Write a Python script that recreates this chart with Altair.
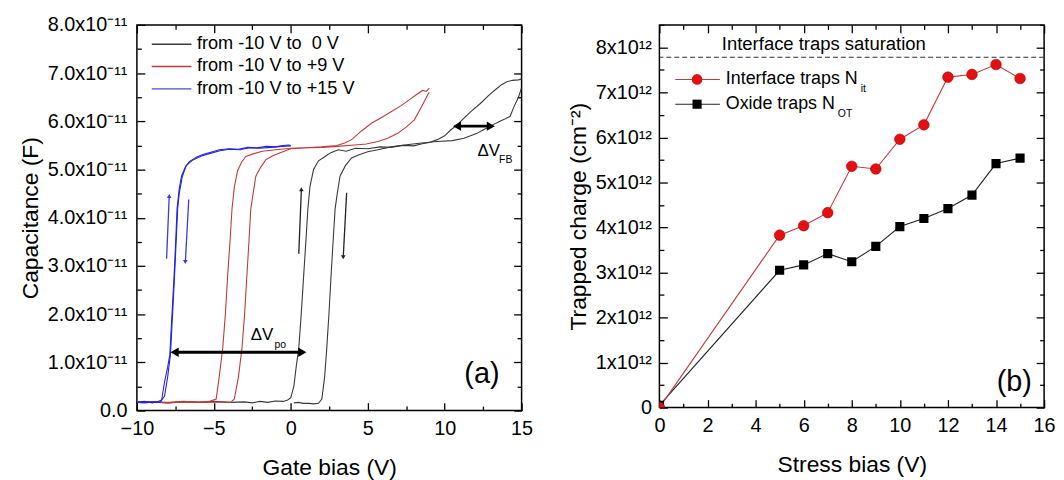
import altair as alt
import pandas as pd

FONT = "Liberation Sans"

# ---------------- panel (a): C-V curves, capacitance in units of 1e-11 F ----------------
blk_fwd_v = [-10, -9, -8, -7, -6, -5, -4, -3, -2.5, -2, -1.5, -1, -0.5, -0.2, 0.0, 0.2, 0.35, 0.52, 0.68, 0.84,
             0.98, 1.11, 1.25, 1.48, 1.8, 2.23, 2.6, 3.09, 3.6, 4.2, 5, 5.8, 6.5, 7.3, 8, 8.46, 9, 9.53, 10,
             10.39, 10.8, 11.14, 11.7, 12.32, 12.9, 13.39, 13.7, 14.04, 14.4, 14.79, 15]
blk_fwd_c = [0.17, 0.18, 0.16, 0.18, 0.17, 0.19, 0.17, 0.18, 0.16, 0.19, 0.17, 0.2, 0.19, 0.22, 0.27, 0.5, 0.9, 1.3,
             2.0, 2.81, 3.5, 4.18, 4.65, 5.0, 5.18, 5.27, 5.35, 5.41, 5.38, 5.44, 5.43, 5.47, 5.46, 5.5, 5.49,
             5.53, 5.56, 5.62, 5.7, 5.82, 5.92, 6.03, 6.2, 6.37, 6.55, 6.68, 6.76, 6.82, 6.85, 6.86, 6.88]
blk_bwd_v = [15, 14.8, 14.5, 14.25, 13.6, 12.96, 12.5, 12.1, 11.6, 11.25, 10.5, 9.53, 8.5, 7.39, 6.5, 5.67, 5, 4.4,
             3.95, 3.55, 3.2, 3.02, 2.88, 2.75, 2.62, 2.48, 2.34, 2.2, 2.02, 1.8, 1.5, 1.2, 0.8, 0.5, 0.2]
blk_bwd_c = [6.7, 6.5, 6.3, 6.1, 6.0, 5.9, 5.82, 5.75, 5.69, 5.65, 5.6, 5.58, 5.55, 5.51, 5.47, 5.41, 5.37, 5.3,
             5.24, 5.08, 4.86, 4.5, 4.18, 3.5, 2.81, 2.0, 1.3, 0.7, 0.24, 0.15, 0.14, 0.15, 0.15, 0.17, 0.16]

red_fwd_v = [-10, -9, -8, -7, -6, -5.3, -4.85, -4.65, -4.42, -4.25, -4.1, -3.95, -3.82, -3.66, -3.46, -3.2, -2.92,
             -2.4, -1.85, -1, 0, 1, 2, 3, 3.5, 3.95, 4.6, 5.24, 5.9, 6.52, 7.2, 7.81, 8.2, 8.56, 8.8, 9.0]
red_fwd_c = [0.17, 0.18, 0.16, 0.19, 0.17, 0.19, 0.24, 0.7, 1.3, 2.0, 2.81, 3.5, 4.18, 4.65, 4.97, 5.15, 5.27,
             5.33, 5.38, 5.41, 5.44, 5.45, 5.47, 5.5, 5.55, 5.62, 5.8, 5.96, 6.08, 6.2, 6.33, 6.47, 6.56, 6.64,
             6.62, 6.69]
red_bwd_v = [9.0, 8.9, 8.5, 8.03, 7.5, 6.95, 6.3, 5.67, 4.9, 4.17, 3, 2, 1, 0, -0.77, -1.2, -1.63, -1.95, -2.27,
             -2.45, -2.6, -2.72, -2.85, -3.0, -3.17, -3.4, -3.67, -3.9, -4.5, -5.5, -6.5, -8, -10]
red_bwd_c = [6.6, 6.55, 6.3, 6.03, 5.88, 5.75, 5.65, 5.58, 5.53, 5.51, 5.48, 5.46, 5.45, 5.43, 5.34, 5.28, 5.2,
             5.05, 4.86, 4.5, 4.18, 3.5, 2.81, 2.0, 1.3, 0.7, 0.24, 0.17, 0.18, 0.17, 0.18, 0.17, 0.18]

blu_fwd_v = [-10, -9.5, -9, -8.7, -8.39, -8.2, -8.0, -7.86, -7.72, -7.58, -7.48, -7.39, -7.25, -7.1, -6.85, -6.57,
             -6.1, -5.71, -5.2, -4.64, -4.0, -3.4, -2.8, -2.2, -1.6, -1.0, -0.5, -0.13, 0]
blu_fwd_c = [0.17, 0.19, 0.16, 0.18, 0.22, 0.6, 0.9, 1.16, 2.0, 2.81, 3.5, 4.18, 4.6, 4.86, 5.05, 5.17, 5.26, 5.31,
             5.36, 5.41, 5.43, 5.42, 5.46, 5.45, 5.48, 5.47, 5.5, 5.51, 5.5]
blu_bwd_v = [0, -0.6, -1.3, -2, -2.7, -3.3, -4, -4.6, -5.3, -5.8, -6.4, -6.8, -7.05, -7.25, -7.35, -7.45, -7.55,
             -7.68, -7.82, -8.0, -8.2, -8.5, -9, -9.5, -10]
blu_bwd_c = [5.49, 5.48, 5.46, 5.44, 5.45, 5.41, 5.42, 5.39, 5.33, 5.28, 5.19, 5.08, 4.85, 4.5, 4.18, 3.5, 2.81,
             2.0, 1.16, 0.7, 0.3, 0.17, 0.18, 0.16, 0.17]

series_names = ["from -10 V to \u00a00 V", "from -10 V to +9 V", "from -10 V to +15 V"]
series_colors = ["#3a3a3a", "#c23a3a", "#2222e0"]
legend_colors = ["#3a3a3a", "#c23a3a", "#4a4ad8"]
series_widths = [1.1, 1.1, 1.9]

# direction arrows near the transitions
arr_x1 = [-8.07, -6.63, 0.52, 3.63]
arr_y1 = [3.15, 4.38, 3.25, 4.52]
arr_x2 = [-7.9, -6.85, 0.69, 3.41]
arr_y2 = [4.45, 3.08, 4.59, 3.18]
arr_shape = ["triangle-up", "triangle-down", "triangle-up", "triangle-down"]
arr_color = ["#3b3bd6", "#3b3bd6", "#222222", "#222222"]

# double arrows (delta V)
dv_x1 = [-7.55, 10.8]
dv_x2 = [0.75, 13.0]
dv_y = [1.21, 5.9]
dv_label_x = [-1.87, 12.86]
dv_label_y = [1.56, 5.38]
dv_sub = ["po", "FB"]
dv_sub_x = [-0.68, 13.97]
dv_sub_y = [1.37, 5.2]

# ---------------- panel (b): trapped charge, units of 1e12 cm^-2 ----------------
stress_bias = [0, 5, 6, 7, 8, 9, 10, 11, 12, 13, 14, 15]
n_it = [0, 3.83, 4.04, 4.33, 5.36, 5.30, 5.96, 6.28, 7.34, 7.40, 7.62, 7.31]
n_ot = [0.05, 3.05, 3.17, 3.42, 3.24, 3.58, 4.02, 4.20, 4.42, 4.72, 5.42, 5.54]
saturation = [7.78]

WA, HA = 388, 389
WB, HB = 388, 386


def branch(vs, cs, s, b):
    return pd.DataFrame({"V": vs, "C": cs, "series": s, "branch": b, "idx": list(range(len(vs)))})


cv = pd.concat([
    branch(blk_fwd_v, blk_fwd_c, series_names[0], "f"),
    branch(blk_bwd_v, blk_bwd_c, series_names[0], "b"),
    branch(red_fwd_v, red_fwd_c, series_names[1], "f"),
    branch(red_bwd_v, red_bwd_c, series_names[1], "b"),
    branch(blu_fwd_v, blu_fwd_c, series_names[2], "f"),
    branch(blu_bwd_v, blu_bwd_c, series_names[2], "b"),
], ignore_index=True)

xs_a = alt.Scale(domain=[-10, 15], nice=False, zero=False, padding=0)
ys_a = alt.Scale(domain=[0, 8], nice=False, zero=False, padding=0)
xs_b = alt.Scale(domain=[0, 16], nice=False, zero=False, padding=0)
ys_b = alt.Scale(domain=[0, 8.5], nice=False, zero=False, padding=0)

one = pd.DataFrame({"a": [0]})


def tick_layers(xs, ys, xmaj, xmin, ymaj, ymin, W, H, xf, yf):
    layers = []
    specs = [("top", "right", xmaj, ymaj, 8), ("top", "right", xmin, ymin, 4.5),
             ("bottom", "left", xmaj, ymaj, 8), ("bottom", "left", xmin, ymin, 4.5)]
    d = pd.DataFrame({xf: [xmaj[0]], yf: [ymaj[0]]})
    for xo, yo, xv, yv, sz in specs:
        ax = alt.Axis(orient=xo, offset=-H, values=xv, tickSize=sz, tickWidth=1.3, tickColor="black",
                      labels=False, domain=False, grid=False, title="")
        ay = alt.Axis(orient=yo, offset=-W, values=yv, tickSize=sz, tickWidth=1.3, tickColor="black",
                      labels=False, domain=False, grid=False, title="")
        layers.append(alt.Chart(d).mark_point(opacity=0).encode(
            x=alt.X(f"{xf}:Q", scale=xs, axis=ax), y=alt.Y(f"{yf}:Q", scale=ys, axis=ay)))
    return layers


def txt(text, x, y, size, align="left"):
    return alt.Chart(one).mark_text(text=text, fontSize=size, font=FONT, color="black", align=align,
                                    baseline="middle").encode(x=alt.value(x), y=alt.value(y))


# ---- panel (a) layers ----
lines_a = alt.Chart(cv).mark_line(clip=True).encode(
    x=alt.X("V:Q", scale=xs_a, axis=alt.Axis(orient="bottom", title="Gate bias (V)", values=[-10, -5, 0, 5, 10, 15],
                                               ticks=False, domain=False, grid=False, labelPadding=8,
                                               titlePadding=18, labelFlush=False)),
    y=alt.Y("C:Q", scale=ys_a, axis=alt.Axis(orient="left", title="Capacitance (F)", values=list(range(0, 9)),
                                              ticks=False, domain=False, grid=False, labelPadding=10,
                                              titlePadding=5, labelFlush=False,
                                              labelExpr="datum.value == 0 ? '0.0' : format(datum.value, '.1f') + 'x10\u207b\u00b9\u00b9'")),
    color=alt.Color("series:N", scale=alt.Scale(domain=series_names, range=series_colors), legend=None),
    strokeWidth=alt.StrokeWidth("series:N", scale=alt.Scale(domain=series_names, range=series_widths), legend=None),
    detail="branch:N",
    order="idx:Q",
)

leg_a = []
for i, (name, col) in enumerate(zip(series_names, legend_colors)):
    yy = 19.5 + 22.5 * i
    leg_a.append(alt.Chart(one).mark_rule(color=col, strokeWidth=1.4).encode(
        x=alt.value(15), x2=alt.value(55), y=alt.value(yy)))
    leg_a.append(txt(name, 60.5, yy, 18.3))

arr_df = pd.DataFrame({"x1": arr_x1, "y1": arr_y1, "x2": arr_x2, "y2": arr_y2, "shape": arr_shape, "col": arr_color})
arr_rules = alt.Chart(arr_df).mark_rule(strokeWidth=1.3).encode(
    x=alt.X("x1:Q", scale=xs_a, axis=None), y=alt.Y("y1:Q", scale=ys_a, axis=None),
    x2="x2:Q", y2="y2:Q", color=alt.Color("col:N", scale=None))
arr_heads = alt.Chart(arr_df).mark_point(filled=True, size=22, opacity=1).encode(
    x=alt.X("x2:Q", scale=xs_a, axis=None), y=alt.Y("y2:Q", scale=ys_a, axis=None),
    shape=alt.Shape("shape:N", scale=None), color=alt.Color("col:N", scale=None))

dv_df = pd.DataFrame({"x1": dv_x1, "x2": dv_x2, "y": dv_y, "lx": dv_label_x, "ly": dv_label_y,
                      "sub": dv_sub, "sx": dv_sub_x, "sy": dv_sub_y})
dv_rule = alt.Chart(dv_df).mark_rule(strokeWidth=3, color="black").encode(
    x=alt.X("x1:Q", scale=xs_a, axis=None), x2="x2:Q", y=alt.Y("y:Q", scale=ys_a, axis=None))
dv_head_l = alt.Chart(dv_df).mark_point(shape="triangle-left", filled=True, size=90, color="black", opacity=1).encode(
    x=alt.X("x1:Q", scale=xs_a, axis=None), y=alt.Y("y:Q", scale=ys_a, axis=None))
dv_head_r = alt.Chart(dv_df).mark_point(shape="triangle-right", filled=True, size=90, color="black", opacity=1).encode(
    x=alt.X("x2:Q", scale=xs_a, axis=None), y=alt.Y("y:Q", scale=ys_a, axis=None))
dv_text = alt.Chart(dv_df).mark_text(text="\u0394V", fontSize=17, font=FONT, color="black").encode(
    x=alt.X("lx:Q", scale=xs_a, axis=None), y=alt.Y("ly:Q", scale=ys_a, axis=None))
dv_subt = alt.Chart(dv_df).mark_text(fontSize=10.5, font=FONT, color="black").encode(
    x=alt.X("sx:Q", scale=xs_a, axis=None), y=alt.Y("sy:Q", scale=ys_a, axis=None), text="sub:N")

label_a = txt("(a)", 348, 352, 29, "center")

panel_a = alt.layer(
    lines_a, arr_rules, arr_heads, dv_rule, dv_head_l, dv_head_r, dv_text, dv_subt, label_a, *leg_a,
    *tick_layers(xs_a, ys_a, [-10, -5, 0, 5, 10, 15], [-7.5, -2.5, 2.5, 7.5, 12.5],
                 list(range(0, 9)), [0.5 + i for i in range(8)], WA, HA, "V", "C")
).resolve_axis(x="independent", y="independent").properties(width=WA, height=HA)

# ---- panel (b) layers ----
it_df = pd.DataFrame({"S": stress_bias, "N": n_it})
ot_df = pd.DataFrame({"S": stress_bias, "N": n_ot})

xb_main = alt.Axis(orient="bottom", title="Stress bias (V)", values=list(range(0, 17, 2)), ticks=False,
                   domain=False, grid=False, labelPadding=8, titlePadding=18, labelFlush=False)
yb_main = alt.Axis(orient="left", title="Trapped charge (cm\u207b\u00b2)", values=list(range(0, 9)), ticks=False,
                   domain=False, grid=False, labelPadding=8, titlePadding=5, labelFlush=False,
                   labelExpr="datum.value == 0 ? '0' : format(datum.value, 'd') + 'x10\u00b9\u00b2'")

ot_line = alt.Chart(ot_df).mark_line(color="#222222", strokeWidth=1.1).encode(
    x=alt.X("S:Q", scale=xs_b, axis=xb_main), y=alt.Y("N:Q", scale=ys_b, axis=yb_main))
it_line = alt.Chart(it_df).mark_line(color="#c23a3a", strokeWidth=1.1).encode(
    x=alt.X("S:Q", scale=xs_b, axis=None), y=alt.Y("N:Q", scale=ys_b, axis=None))
ot_pts = alt.Chart(ot_df).mark_point(shape="square", filled=True, size=85, color="black", opacity=1, clip=True).encode(
    x=alt.X("S:Q", scale=xs_b, axis=None), y=alt.Y("N:Q", scale=ys_b, axis=None))
it_pts = alt.Chart(it_df).mark_point(shape="circle", filled=True, size=115, color="#e30f12", opacity=1, clip=True,
                                     stroke="#b00000", strokeWidth=0.6).encode(
    x=alt.X("S:Q", scale=xs_b, axis=None), y=alt.Y("N:Q", scale=ys_b, axis=None))

sat_df = pd.DataFrame({"y": saturation})
sat_rule = alt.Chart(sat_df).mark_rule(color="#333333", strokeDash=[5, 3], strokeWidth=1.1).encode(
    y=alt.Y("y:Q", scale=ys_b, axis=None))
sat_text = txt("Interface traps saturation", 63, 19, 18.6)

leg_b = [
    alt.Chart(one).mark_rule(color="#c23a3a", strokeWidth=1.1).encode(x=alt.value(16), x2=alt.value(61), y=alt.value(55)),
    alt.Chart(one).mark_point(shape="circle", filled=True, size=115, color="#e30f12", opacity=1).encode(
        x=alt.value(38), y=alt.value(55)),
    txt("Interface traps N", 67, 55, 18),
    txt("it", 203, 65, 10.5),
    alt.Chart(one).mark_rule(color="#222222", strokeWidth=1.1).encode(x=alt.value(16), x2=alt.value(61), y=alt.value(80)),
    alt.Chart(one).mark_point(shape="square", filled=True, size=85, color="black", opacity=1).encode(
        x=alt.value(38), y=alt.value(80)),
    txt("Oxide traps N", 67, 80, 18),
    txt("OT", 180, 90, 10.5),
]
label_b = txt("(b)", 358, 360, 29, "center")

panel_b = alt.layer(
    ot_line, it_line, ot_pts, it_pts, sat_rule, sat_text, *leg_b, label_b,
    *tick_layers(xs_b, ys_b, list(range(0, 17, 2)), list(range(1, 16, 2)),
                 list(range(0, 9)), [0.5 + i for i in range(9)], WB, HB, "S", "N")
).resolve_axis(x="independent", y="independent").properties(width=WB, height=HB)

chart = alt.hconcat(panel_a, panel_b, spacing=139, bounds="flush").properties(
    padding={"left": 10, "top": 4, "right": 0, "bottom": 0}
).configure_view(
    stroke="black", strokeWidth=1.5
).configure_axis(
    labelFont=FONT, titleFont=FONT, labelFontSize=20, titleFontSize=23, labelColor="black",
    titleColor="black", titleFontWeight="normal"
)

chart.save("out.html", embed_options={"renderer": "svg", "actions": False})
